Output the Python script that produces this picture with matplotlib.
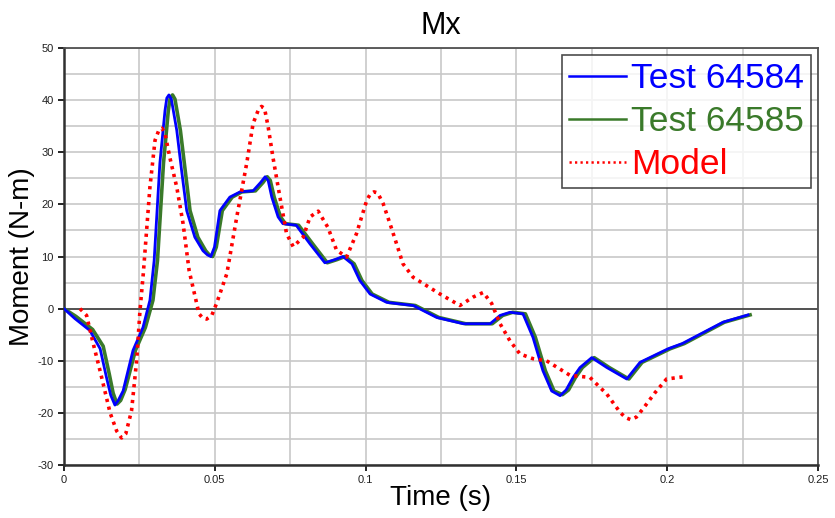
import matplotlib
matplotlib.use("Agg")
import matplotlib.pyplot as plt
import numpy as np

plt.rcParams['font.family'] = ['Liberation Sans', 'DejaVu Sans']
plt.rcParams['axes.unicode_minus'] = False

# Test 64584 (blue)
t_584 = [0.0, 0.0036, 0.0086, 0.012, 0.0141, 0.0155, 0.0169, 0.018, 0.0196, 0.0229,
         0.0262, 0.0285, 0.0299, 0.0318, 0.0335, 0.0341, 0.0348, 0.0356, 0.0374, 0.039,
         0.0407, 0.0434, 0.0461, 0.0476, 0.0487, 0.0499, 0.0517, 0.055, 0.0584, 0.0627,
         0.0652, 0.0667, 0.0677, 0.0689, 0.071, 0.0726, 0.077, 0.0816, 0.0865, 0.0898,
         0.0925, 0.0955, 0.0981, 0.1015, 0.107, 0.1158, 0.1236, 0.1324, 0.1413, 0.1446,
         0.1479, 0.1522, 0.1555, 0.1588, 0.1617, 0.1645, 0.1665, 0.1688, 0.1711, 0.175,
         0.18, 0.1866, 0.191, 0.2003, 0.205, 0.2185, 0.2268]
m_584 = [0.0, -1.9, -4.2, -7.7, -13.2, -16.6, -18.5, -17.6, -15.8, -8.0,
         -3.6, 1.6, 9.2, 27.9, 38.0, 40.4, 41.0, 40.2, 34.2, 26.5,
         18.8, 13.7, 11.1, 10.3, 10.0, 11.8, 18.8, 21.4, 22.4, 22.6,
         24.2, 25.3, 24.6, 21.4, 17.6, 16.3, 16.0, 12.4, 8.8, 9.4,
         10.0, 8.6, 5.4, 2.8, 1.2, 0.6, -1.7, -2.9, -2.9, -1.3,
         -0.7, -1.0, -5.5, -11.9, -15.8, -16.7, -15.6, -13.2, -11.3, -9.4,
         -11.3, -13.5, -10.3, -7.7, -6.7, -2.6, -1.2]

# Test 64585 (green)
t_585 = [0.0, 0.004, 0.0095, 0.013, 0.015, 0.0163, 0.0176, 0.0188, 0.0203, 0.0237,
         0.027, 0.0295, 0.031, 0.033, 0.0346, 0.0352, 0.036, 0.0368, 0.0386, 0.0402,
         0.0418, 0.0444, 0.047, 0.0482, 0.0493, 0.0505, 0.0525, 0.0558, 0.059, 0.0635,
         0.066, 0.0674, 0.0684, 0.0697, 0.0718, 0.0734, 0.0778, 0.0825, 0.0873, 0.0905,
         0.0932, 0.0962, 0.0988, 0.1022, 0.1078, 0.1165, 0.1243, 0.1332, 0.142, 0.1455,
         0.1488, 0.153, 0.1563, 0.1596, 0.1625, 0.1653, 0.1673, 0.1696, 0.1719, 0.1758,
         0.1808, 0.1873, 0.1917, 0.201, 0.2057, 0.219, 0.2275]
m_585 = [0.0, -1.5, -4.0, -7.2, -12.5, -16.2, -18.3, -17.6, -15.5, -8.0,
         -3.6, 1.6, 9.2, 27.9, 38.0, 40.4, 41.0, 40.2, 34.2, 26.5,
         18.8, 13.7, 11.1, 10.3, 10.0, 11.8, 18.8, 21.4, 22.4, 22.6,
         24.2, 25.3, 24.6, 21.4, 17.6, 16.3, 16.0, 12.4, 8.8, 9.4,
         10.0, 8.6, 5.4, 2.8, 1.2, 0.6, -1.7, -2.9, -2.9, -1.3,
         -0.7, -1.0, -5.5, -11.9, -15.8, -16.5, -15.6, -13.2, -11.3, -9.4,
         -11.3, -13.5, -10.3, -7.7, -6.7, -2.6, -1.2]

# Model (red dotted)
t_mod = [0.0053, 0.0075, 0.0097, 0.012, 0.0153, 0.0175, 0.0191, 0.0205, 0.0224, 0.0241,
         0.0252, 0.0263, 0.0285, 0.0302, 0.0315, 0.0325, 0.0335, 0.0351, 0.0374, 0.0395,
         0.0415, 0.0448, 0.046, 0.0473, 0.049, 0.0506, 0.054, 0.0573, 0.0606, 0.0627,
         0.0645, 0.0655, 0.0665, 0.0677, 0.0693, 0.0716, 0.0738, 0.076, 0.0793, 0.0816,
         0.0843, 0.0875, 0.0904, 0.0937, 0.097, 0.1004, 0.1016, 0.1028, 0.104, 0.1058,
         0.1081, 0.1103, 0.1124, 0.1158, 0.1247, 0.1313, 0.1356, 0.139, 0.1418, 0.1446,
         0.1479, 0.1512, 0.1555, 0.16, 0.1678, 0.1744, 0.18, 0.1844, 0.1862, 0.1879,
         0.1898, 0.192, 0.196, 0.1998, 0.2051]
m_mod = [0.0, -1.3, -6.7, -12.0, -20.0, -23.5, -24.8, -24.0, -19.6, -10.0,
         -0.4, 6.7, 23.3, 32.3, 34.3, 34.6, 33.6, 29.0, 23.3, 16.3,
         7.3, -1.0, -1.8, -2.0, -1.3, 1.0, 6.7, 17.6, 27.9, 35.5,
         38.2, 38.8, 38.4, 34.9, 29.0, 21.4, 14.4, 11.9, 13.7, 17.6,
         18.7, 15.6, 11.2, 9.9, 14.4, 20.8, 22.0, 22.4, 22.2, 20.2,
         16.3, 12.4, 8.6, 6.0, 2.8, 0.6, 2.2, 3.1, 1.0, -2.9,
         -6.2, -8.7, -9.6, -10.0, -12.8, -13.2, -16.4, -19.9, -20.9, -21.3,
         -20.8, -19.2, -16.1, -13.5, -13.1]

fig = plt.figure(figsize=(8.35, 5.18), dpi=100)
ax = fig.add_axes([0.0766, 0.1023, 0.9030, 0.8050])

ax.set_xlim(0, 0.25)
ax.set_ylim(-30, 50)
ax.set_xticks(np.arange(0, 0.2501, 0.05))
ax.set_xticklabels(['0', '0.05', '0.1', '0.15', '0.2', '0.25'])
ax.set_yticks(np.arange(-30, 51, 10))
ax.set_xticks(np.arange(0, 0.25, 0.025), minor=True)
ax.set_yticks(np.arange(-30, 50, 5), minor=True)
ax.grid(which='both', color='#c8c8c8', linewidth=1.2)
ax.set_axisbelow(True)
ax.tick_params(which='minor', length=0)
ax.tick_params(which='major', labelsize=8, length=4, width=1.2, direction='out',
               labelcolor='#202020')
ax.axhline(0, color='#303030', linewidth=1.1, zorder=1.5)

for s in ['left', 'bottom']:
    ax.spines[s].set_color('#303030')
    ax.spines[s].set_linewidth(1.8)
for s in ['top', 'right']:
    ax.spines[s].set_color('#505050')
    ax.spines[s].set_linewidth(1.3)

ax.plot(t_585, m_585, color='#3a7a2a', linewidth=2.6, label='Test 64585', zorder=3)
ax.plot(t_584, m_584, color='#0000ff', linewidth=2.0, label='Test 64584', zorder=3)
ax.plot(t_mod, m_mod, color='#ff0000', linewidth=2.6, linestyle=(0, (0.9, 1.3)),
        label='Model', zorder=4)

h, l = ax.get_legend_handles_labels()
order = [1, 0, 2]
leg = ax.legend([h[i] for i in order], [l[i] for i in order], loc='upper right',
                fontsize=25.5, frameon=True, fancybox=False, handlelength=1.6,
                handletextpad=0.15, borderpad=0.2, labelspacing=0.28,
                borderaxespad=0.2, labelcolor=['#0000ff', '#3a7a2a', '#ff0000'])
leg.get_frame().set_edgecolor('#202020')
leg.get_frame().set_linewidth(1.2)
for line in leg.get_lines():
    line.set_linewidth(1.8)

ax.set_title('Mx', fontsize=22, pad=10)
ax.set_xlabel('Time (s)', fontsize=20, labelpad=0)
ax.set_ylabel('Moment (N-m)', fontsize=20, labelpad=2)

fig.savefig('out.png', dpi=100)
